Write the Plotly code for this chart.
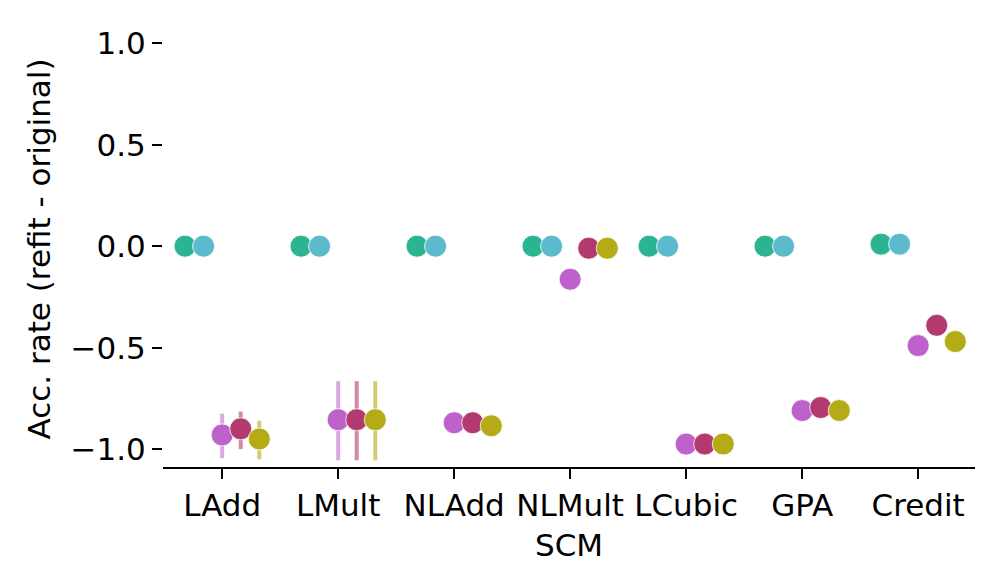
import plotly.graph_objects as go

categories = ["LAdd", "LMult", "NLAdd", "NLMult", "LCubic", "GPA", "Credit"]
hue_names = ["m1", "m2", "m3", "m4", "m5"]
colors = ["#2bb491", "#5dbacd", "#bd62cb", "#b33a6e", "#b4ab17"]
err_colors = ["rgba(43,180,145,0.55)", "rgba(93,186,205,0.55)", "rgba(189,98,203,0.55)",
              "rgba(179,58,110,0.6)", "rgba(180,171,23,0.6)"]

values = [
    [0.0, 0.0, 0.0, 0.0, 0.0, 0.0, 0.01],
    [0.0, 0.0, 0.0, 0.0, 0.0, 0.0, 0.01],
    [-0.93, -0.855, -0.87, -0.163, -0.975, -0.81, -0.49],
    [-0.90, -0.855, -0.87, -0.01, -0.975, -0.795, -0.39],
    [-0.95, -0.855, -0.885, -0.01, -0.975, -0.81, -0.47],
]
err_plus = [
    [0, 0, 0, 0, 0, 0, 0],
    [0, 0, 0, 0, 0, 0, 0],
    [0.105, 0.19, 0.0, 0.0, 0.0, 0.02, 0.0],
    [0.085, 0.19, 0.0, 0.0, 0.0, 0.0, 0.0],
    [0.09, 0.19, 0.0, 0.0, 0.0, 0.0, 0.025],
]
err_minus = [
    [0, 0, 0, 0, 0, 0, 0],
    [0, 0, 0, 0, 0, 0, 0],
    [0.115, 0.2, 0.0, 0.0, 0.0, 0.02, 0.0],
    [0.10, 0.2, 0.0, 0.0, 0.0, 0.0, 0.0],
    [0.10, 0.2, 0.0, 0.0, 0.0, 0.0, 0.025],
]
offsets = [-0.32, -0.16, 0.0, 0.16, 0.32]

fig = go.Figure()
for i, name in enumerate(hue_names):
    xs = [j + offsets[i] for j in range(len(categories))]
    fig.add_trace(go.Scatter(
        x=xs, y=values[i], mode="markers", name=name, showlegend=False,
        marker=dict(size=22, color=colors[i], line=dict(color="white", width=0.8)),
        error_y=dict(type="data", array=err_plus[i], arrayminus=err_minus[i],
                     symmetric=False, color=err_colors[i], thickness=4, width=0),
    ))

font = dict(family="DejaVu Sans", size=31, color="black")
fig.update_layout(
    width=990, height=580,
    margin=dict(l=155, r=23, t=23, b=121),
    plot_bgcolor="white", paper_bgcolor="white",
    font=font,
    xaxis=dict(
        range=[-0.51, 6.49], tickmode="array", tickvals=list(range(len(categories))),
        ticktext=categories, showgrid=False, zeroline=False,
        showline=True, linecolor="black", linewidth=2,
        ticks="outside", ticklen=10, tickwidth=2, tickcolor="black",
        title=dict(text="SCM", standoff=12, font=font), tickfont=font,
        automargin=False,
    ),
    yaxis=dict(
        range=[-1.088, 1.06], tickmode="array", tickvals=[-1.0, -0.5, 0.0, 0.5, 1.0],
        ticktext=["\u22121.0", "\u22120.5", "0.0", "0.5", "1.0"],
        showgrid=False, zeroline=False, showline=False,
        ticks="outside", ticklen=10, tickwidth=2, tickcolor="black",
        title=dict(text="Acc. rate (refit - original)", standoff=10, font=font), tickfont=font,
        automargin=False,
    ),
)
fig.write_html("out.html")
